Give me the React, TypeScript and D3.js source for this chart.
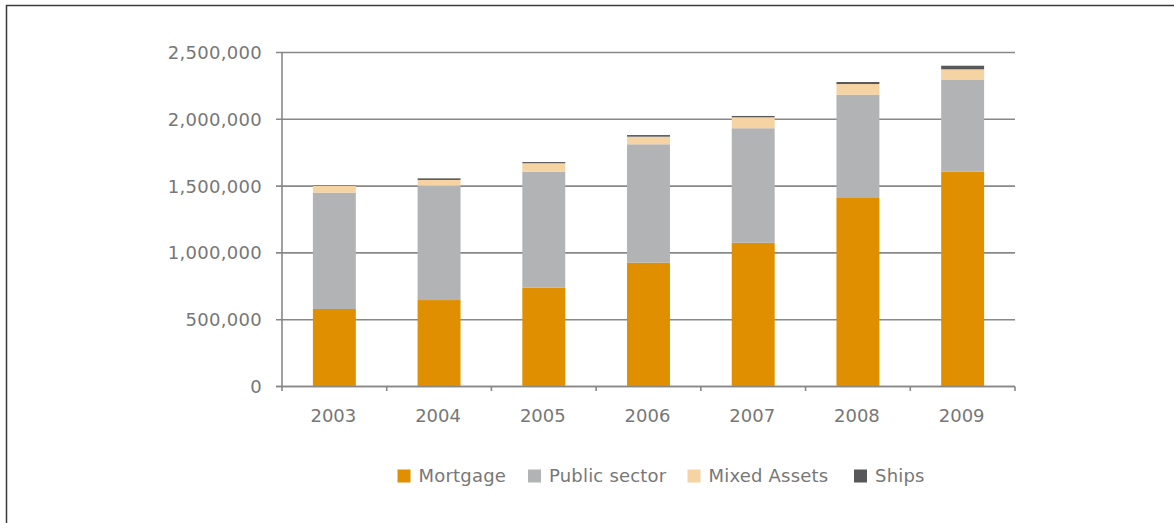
import React, { useEffect, useRef } from 'react'
import * as d3 from 'd3'

const years = ['2003', '2004', '2005', '2006', '2007', '2008', '2009']
const mortgage = [580000, 647000, 739000, 927000, 1076000, 1411000, 1608000]
const publicSector = [871000, 856000, 869000, 886000, 857000, 773000, 686000]
const mixedAssets = [52000, 43000, 63000, 57000, 82000, 80000, 80000]
const ships = [4000, 12000, 9000, 12000, 10000, 15000, 27000]
const seriesNames = ['Mortgage', 'Public sector', 'Mixed Assets', 'Ships']
const seriesColors = ['#e08f00', '#b2b3b5', '#f5d3a3', '#58585a']
const yTicks = [0, 500000, 1000000, 1500000, 2000000, 2500000]

export default function App() {
  const svgRef = useRef<SVGSVGElement | null>(null)

  useEffect(() => {
    if (!svgRef.current) return
    const svg = d3.select(svgRef.current)
    svg.selectAll('*').remove()

    const width = 1174
    const height = 523
    const font = 'DejaVu Sans, Verdana, sans-serif'
    const textColor = '#777'
    const axisColor = '#888'

    // outer frame (only top and left edges visible)
    svg.append('path')
      .attr('d', `M6.5,${height} L6.5,5.5 L${width},5.5`)
      .attr('fill', 'none')
      .attr('stroke', '#3a3a3a')
      .attr('stroke-width', 1.5)

    const x = d3.scaleBand<string>().domain(years).range([282, 1015]).padding(0)
    const y = d3.scaleLinear().domain([0, 2500000]).range([386.5, 52.5])

    // gridlines
    svg.append('g')
      .selectAll('line')
      .data(yTicks)
      .enter()
      .append('line')
      .attr('x1', 276)
      .attr('x2', 1015)
      .attr('y1', d => y(d))
      .attr('y2', d => y(d))
      .attr('stroke', axisColor)
      .attr('stroke-width', 1.6)

    // y labels
    svg.append('g')
      .selectAll('text')
      .data(yTicks)
      .enter()
      .append('text')
      .attr('x', 262)
      .attr('y', d => y(d))
      .attr('dy', '0.36em')
      .attr('text-anchor', 'end')
      .attr('font-family', font)
      .attr('font-size', 18)
      .attr('letter-spacing', 0.3)
      .attr('fill', textColor)
      .text(d => d3.format(',')(d))

    // stacked bars
    const rows = years.map((yr, i) => ({
      year: yr,
      Mortgage: mortgage[i],
      'Public sector': publicSector[i],
      'Mixed Assets': mixedAssets[i],
      Ships: ships[i]
    }))
    const stacked = d3.stack<any>().keys(seriesNames)(rows)
    const barW = x.bandwidth() * 0.41

    stacked.forEach((layer, k) => {
      svg.append('g')
        .selectAll('rect')
        .data(layer)
        .enter()
        .append('rect')
        .attr('x', d => (x(d.data.year) as number) + (x.bandwidth() - barW) / 2)
        .attr('width', barW)
        .attr('y', d => y(d[1]))
        .attr('height', d => y(d[0]) - y(d[1]))
        .attr('fill', seriesColors[k])
    })

    // y axis line
    svg.append('line')
      .attr('x1', 282).attr('x2', 282)
      .attr('y1', 52.5).attr('y2', 391)
      .attr('stroke', axisColor)
      .attr('stroke-width', 1.6)

    // x axis
    svg.append('line')
      .attr('x1', 276).attr('x2', 1015)
      .attr('y1', 386.5).attr('y2', 386.5)
      .attr('stroke', axisColor)
      .attr('stroke-width', 1.6)

    const tickXs = years.map(yr => (x(yr) as number) + x.bandwidth())
    svg.append('g')
      .selectAll('line')
      .data(tickXs)
      .enter()
      .append('line')
      .attr('x1', d => d).attr('x2', d => d)
      .attr('y1', 386.5).attr('y2', 391)
      .attr('stroke', axisColor)
      .attr('stroke-width', 1.6)

    svg.append('g')
      .selectAll('text')
      .data(years)
      .enter()
      .append('text')
      .attr('x', d => (x(d) as number) + x.bandwidth() / 2 - 1)
      .attr('y', 422)
      .attr('text-anchor', 'middle')
      .attr('font-family', font)
      .attr('font-size', 18)
      .attr('fill', textColor)
      .text(d => d)

    // legend
    const legendX = [397.5, 528, 687.5, 854]
    const legend = svg.append('g')
    seriesNames.forEach((name, i) => {
      legend.append('rect')
        .attr('x', legendX[i])
        .attr('y', 469.5)
        .attr('width', 13)
        .attr('height', 13)
        .attr('fill', seriesColors[i])
      legend.append('text')
        .attr('x', legendX[i] + 21)
        .attr('y', 482)
        .attr('font-family', font)
        .attr('font-size', 18)
        .attr('letter-spacing', 0.2)
        .attr('fill', textColor)
        .text(name)
    })
  }, [])

  return (
    <svg
      ref={svgRef}
      width={1174}
      height={523}
      style={{ position: 'absolute', left: 0, top: 0, background: '#fff' }}
    />
  )
}
